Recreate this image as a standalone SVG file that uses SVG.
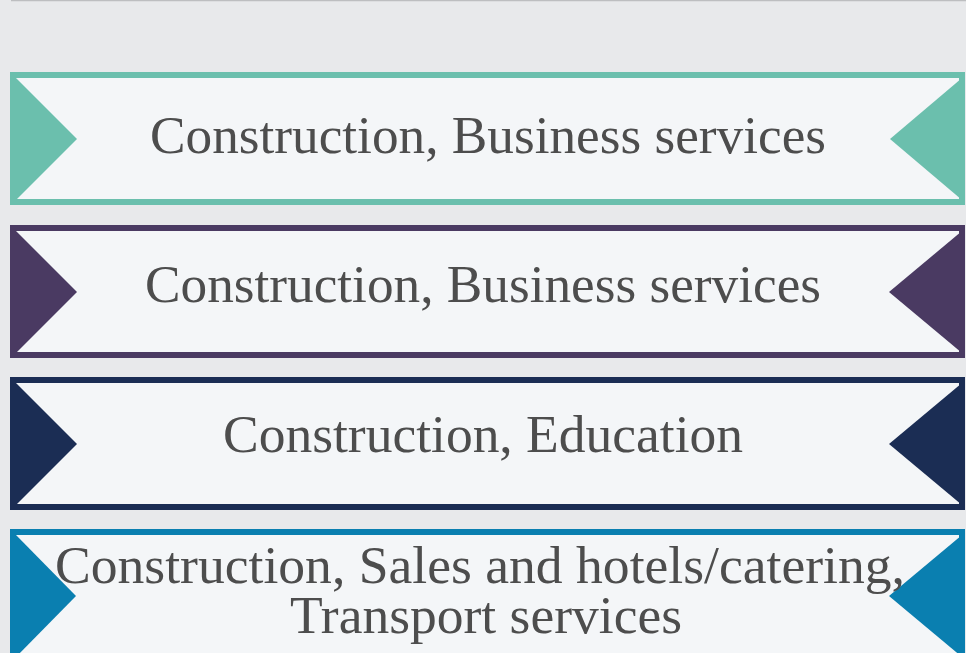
<svg xmlns="http://www.w3.org/2000/svg" width="966" height="653" viewBox="0 0 966 653">
<style>
.box{fill:#F4F6F8;stroke-width:6}
.t{font-family:"Liberation Serif","DejaVu Serif",serif;font-size:53px;fill:#4D4D4D;text-anchor:middle}
</style>
<rect x="0" y="0" width="966" height="653" fill="#E8E9EB"/>
<line x1="11" y1="0.5" x2="966" y2="0.5" stroke="#BDBEC0" stroke-width="1.5"/>
<g id="node1">
<rect class="box" x="13" y="75" width="949" height="127" stroke="#6BBFAD"/>
<polygon points="16,78 77,139 16,200" fill="#6BBFAD"/>
<polygon points="962,78 890,139 962,200" fill="#6BBFAD"/>
<text class="t" x="488" y="153" textLength="676" lengthAdjust="spacingAndGlyphs">Construction, Business services</text>
</g>
<g id="node2">
<rect class="box" x="13" y="228" width="949" height="127" stroke="#4A3A62"/>
<polygon points="16,231 77,292 16,353" fill="#4A3A62"/>
<polygon points="962,231 889,292 962,353" fill="#4A3A62"/>
<text class="t" x="483" y="302" textLength="676" lengthAdjust="spacingAndGlyphs">Construction, Business services</text>
</g>
<g id="node3">
<rect class="box" x="13" y="380" width="949" height="127" stroke="#1B2D54"/>
<polygon points="16,383 77,444 16,505" fill="#1B2D54"/>
<polygon points="962,383 889,444 962,505" fill="#1B2D54"/>
<text class="t" x="483" y="452" textLength="520" lengthAdjust="spacingAndGlyphs">Construction, Education</text>
</g>
<g id="node4">
<rect class="box" x="13" y="532" width="949" height="127" stroke="#0A7FB0"/>
<polygon points="16,535 76,596 16,657" fill="#0A7FB0"/>
<polygon points="962,535 889,596 962,657" fill="#0A7FB0"/>
<text class="t" x="480" y="583" textLength="850" lengthAdjust="spacingAndGlyphs">Construction, Sales and hotels/catering,</text>
<text class="t" x="486" y="633" textLength="392" lengthAdjust="spacingAndGlyphs">Transport services</text>
</g>
<g id="connectors"/>
</svg>
